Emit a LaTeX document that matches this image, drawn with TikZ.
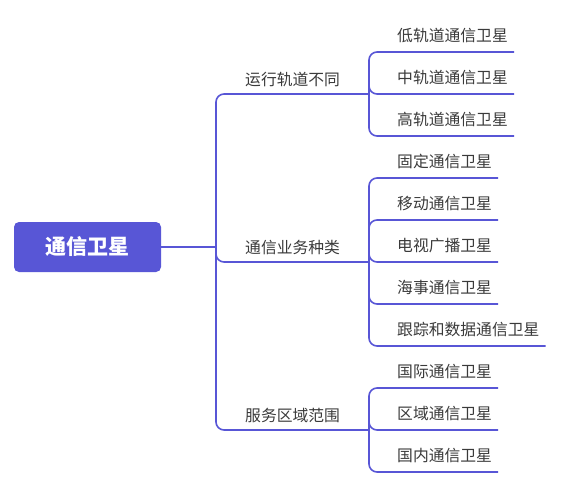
\documentclass[tikz,border=0pt]{standalone}
\usepackage{fontspec}
\setmainfont{Noto Sans CJK SC}
\usetikzlibrary{positioning}
\definecolor{topic}{HTML}{5856D6}
\definecolor{words}{HTML}{3A3A3A}
\tikzset{
  root/.style={fill=topic, text=white, rounded corners=5pt, minimum width=147pt,
    minimum height=50pt, font=\fontsize{21}{21}\selectfont\bfseries},
  branch/.style={anchor=south west, inner xsep=6pt, inner ysep=8.5pt, text depth=0pt,
    text=words, font=\fontsize{15.8}{15.8}\selectfont},
  leaf/.style={branch, inner ysep=10pt},
  link/.style={draw=topic, line width=1.6pt, rounded corners=8pt}
}
\begin{document}
\begin{tikzpicture}[x=1pt, y=-1pt]
\useasboundingbox (0,0) rectangle (577,492);
\node[root] (ROOT) at (87.5,247) {通信卫星};
\coordinate (TRUNK) at (216,247);
% first level
\node[branch] (ORBIT) at (239,94) {运行轨道不同};
\node[branch] (SERVICE) at (239,262) {通信业务种类};
\node[branch] (AREA) at (239,430) {服务区域范围};
\coordinate (J1) at (369,94);
\coordinate (J2) at (369,262);
\coordinate (J3) at (369,430);
% second level
\node[leaf] (LOW) at (391,52) {低轨道通信卫星};
\node[leaf] (MID) at (391,94) {中轨道通信卫星};
\node[leaf] (HIGH) at (391,136) {高轨道通信卫星};
\node[leaf] (FIXED) at (391,178) {固定通信卫星};
\node[leaf] (MOBILE) at (391,220) {移动通信卫星};
\node[leaf] (TV) at (391,262) {电视广播卫星};
\node[leaf] (SEA) at (391,304) {海事通信卫星};
\node[leaf] (TRACK) at (391,346) {跟踪和数据通信卫星};
\node[leaf] (INTL) at (391,388) {国际通信卫星};
\node[leaf] (REGION) at (391,430) {区域通信卫星};
\node[leaf] (HOME) at (391,472) {国内通信卫星};
\draw[link] (ROOT.east) -- (TRUNK);
\draw[link] (TRUNK) |- (J1);
\draw[link] (TRUNK) |- (J2);
\draw[link] (TRUNK) |- (J3);
\draw[link] (J1) |- (LOW.south east);
\draw[link] (J1) |- (MID.south east);
\draw[link] (J1) |- (HIGH.south east);
\draw[link] (J2) |- (FIXED.south east);
\draw[link] (J2) |- (MOBILE.south east);
\draw[link] (J2) |- (TV.south east);
\draw[link] (J2) |- (SEA.south east);
\draw[link] (J2) |- (TRACK.south east);
\draw[link] (J3) |- (INTL.south east);
\draw[link] (J3) |- (REGION.south east);
\draw[link] (J3) |- (HOME.south east);
\end{tikzpicture}
\end{document}
